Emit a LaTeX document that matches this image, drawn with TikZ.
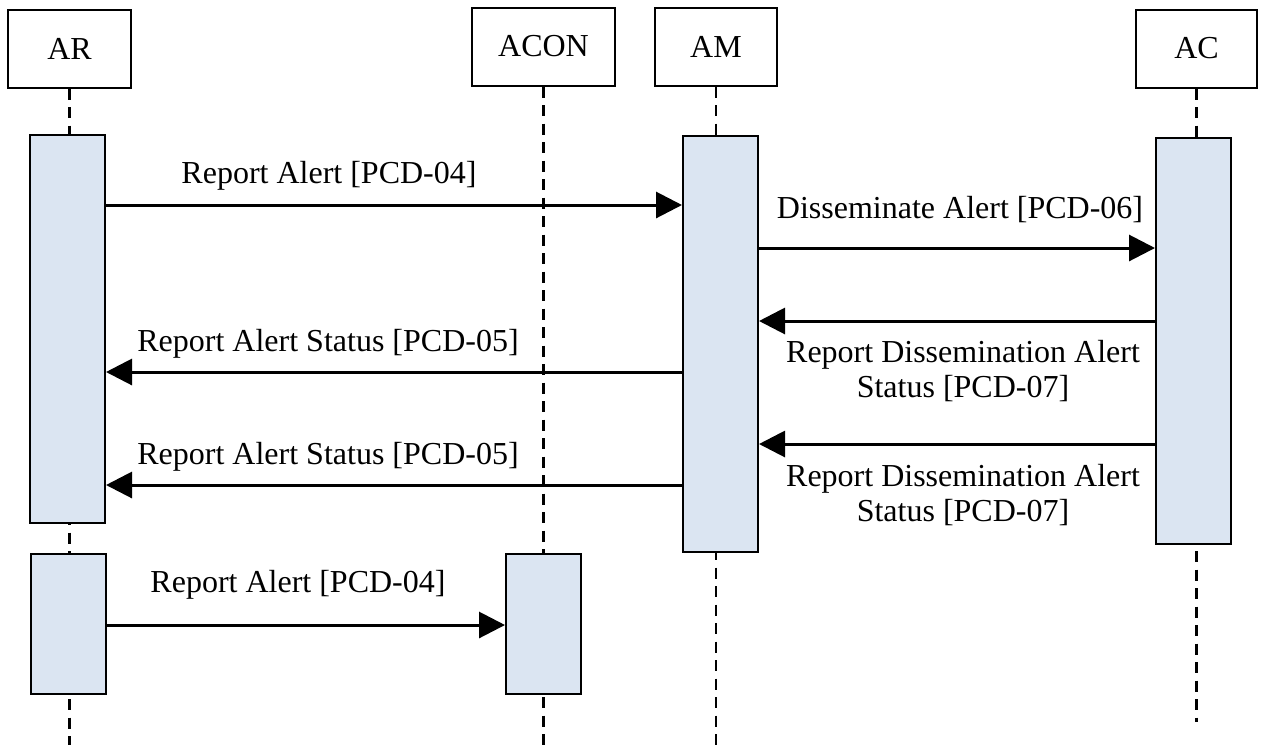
\documentclass[tikz,border=0pt]{standalone}
\usepackage{fontspec}
\setmainfont{Liberation Serif}
\usepackage{tikz}
\usetikzlibrary{arrows.meta,
                backgrounds,
                positioning,}
\definecolor{dbe5f1}{rgb}{0.86,0.90,0.95}

\begin{document}
\begin{tikzpicture}[line join=miter,x=0.5pt,y=-0.5pt,
  font=\fontsize{16}{17.5}\selectfont,
  actor/.style={draw,line width=1pt,minimum height=39pt,inner sep=0pt},
  bar/.style={draw,line width=1pt,fill=dbe5f1,minimum width=37.5pt,inner sep=0pt},
  life/.style={line width=1.25pt,dash pattern=on 5.5pt off 3.75pt},
  msg/.style={line width=1.5pt,-{Triangle[length=13pt,width=13pt]}},
  lbl/.style={anchor=base,align=center,inner sep=0pt}]
\useasboundingbox (0,0) rectangle (1261,745);
% heads
\node[actor,minimum width=61.5pt] (ar) at (69.5,48.5) {AR};
\node[actor,minimum width=71.5pt] (acon) at (543.5,46.5) {ACON};
\node[actor,minimum width=61pt] (am) at (716,46.5) {AM};
\node[actor,minimum width=60.5pt] (ac) at (1196.5,48.5) {AC};
% activation bars
\node[bar,minimum height=194pt] (arA) at (67.5,329) {};
\node[bar,minimum height=70pt] (arB) at (68,624) {};
\node[bar,minimum height=70pt] (aconA) at (543.5,624) {};
\node[bar,minimum height=208pt] (amA) at (720.5,344) {};
\node[bar,minimum height=203pt] (acA) at (1193.5,341) {};
% lifelines
\coordinate (bot) at (0,745);
\coordinate (acend) at (0,722);
\begin{scope}[on background layer]
\draw[life] (ar.south) -- (ar.south |- bot);
\draw[life] (acon.south) -- (acon.south |- bot);
\draw[life] (am.south) -- (am.south |- bot);
\draw[life] (ac.south) -- (ac.south |- acend);
\end{scope}
% messages
\coordinate (m1) at (0,205);
\coordinate (m2) at (0,248);
\coordinate (m3) at (0,321);
\coordinate (m4) at (0,372);
\coordinate (m5) at (0,444);
\coordinate (m6) at (0,485);
\coordinate (m7) at (0,625);
\draw[msg] (arA.east |- m1) -- (amA.west |- m1);
\draw[msg] (amA.east |- m2) -- (acA.west |- m2);
\draw[msg] (acA.west |- m3) -- (amA.east |- m3);
\draw[msg] (amA.west |- m4) -- (arA.east |- m4);
\draw[msg] (acA.west |- m5) -- (amA.east |- m5);
\draw[msg] (amA.west |- m6) -- (arA.east |- m6);
\draw[msg] (arB.east |- m7) -- (aconA.west |- m7);
\node[lbl] (l1) at (329,183) {Report Alert [PCD-04]};
\node[lbl] (l2) at (960,218) {Disseminate Alert [PCD-06]};
\node[lbl] (l3) at (963,397) {Report Dissemination Alert\\Status [PCD-07]};
\node[lbl] (l4) at (328,351) {Report Alert Status [PCD-05]};
\node[lbl] (l5) at (963,521) {Report Dissemination Alert\\Status [PCD-07]};
\node[lbl] (l6) at (328,464) {Report Alert Status [PCD-05]};
\node[lbl] (l7) at (298,592) {Report Alert [PCD-04]};
\end{tikzpicture}
\end{document}
